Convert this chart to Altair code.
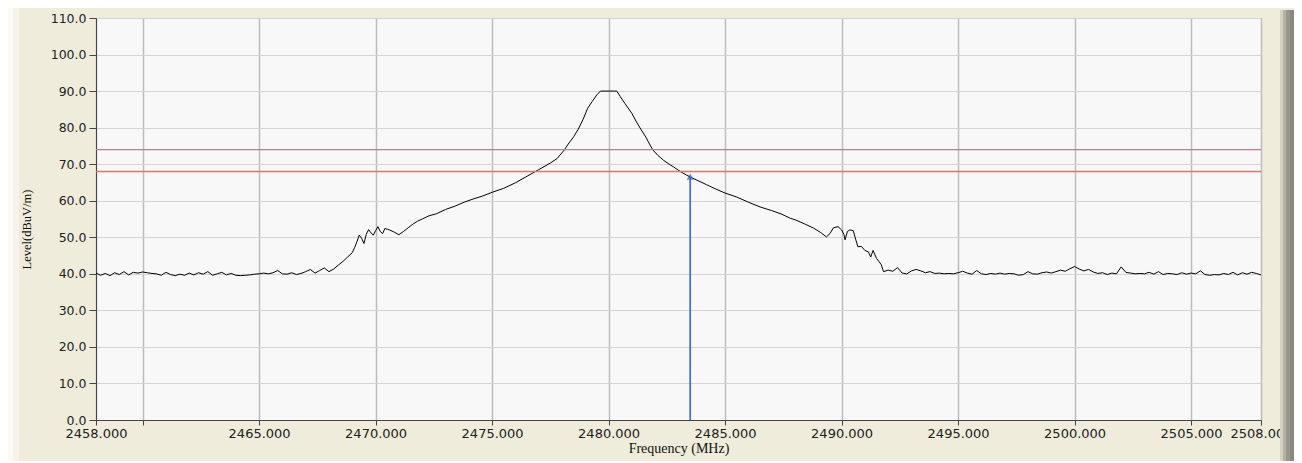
import altair as alt
import pandas as pd

# ---- data ----
freq = [
    2458.0, 2458.2, 2458.4, 2458.6, 2458.8, 2459.0, 2459.2, 2459.4, 2459.6, 2459.8,
    2460.0, 2460.2, 2460.4, 2460.6, 2460.8, 2461.0, 2461.2, 2461.4, 2461.6, 2461.8,
    2462.0, 2462.2, 2462.4, 2462.6, 2462.8, 2463.0, 2463.2, 2463.4, 2463.6, 2463.8,
    2464.0, 2464.2, 2464.4, 2464.6, 2464.8, 2465.0, 2465.2, 2465.4, 2465.6, 2465.8,
    2466.0, 2466.2, 2466.4, 2466.6, 2466.8, 2467.0, 2467.2, 2467.4, 2467.6, 2467.8,
    2468.0, 2468.2, 2468.4, 2468.6, 2468.8, 2469.0, 2469.1, 2469.2, 2469.3, 2469.4,
    2469.5, 2469.6, 2469.7, 2469.8, 2469.9, 2470.0, 2470.1, 2470.2, 2470.3, 2470.4,
    2470.5, 2470.6, 2470.8, 2471.0, 2471.2, 2471.4, 2471.6, 2471.8, 2472.0, 2472.3,
    2472.6, 2473.0, 2473.4, 2473.8, 2474.2, 2474.6, 2475.0, 2475.5, 2476.0, 2476.5,
    2477.0, 2477.5, 2477.8, 2478.1, 2478.3, 2478.5, 2478.7, 2478.9, 2479.1, 2479.3,
    2479.5, 2479.65, 2480.35, 2480.5, 2480.7, 2481.0, 2481.2, 2481.4, 2481.6, 2481.8,
    2481.9, 2482.1, 2482.35, 2482.6, 2482.8, 2483.1, 2483.35, 2483.5, 2483.8, 2484.2,
    2484.6, 2485.0, 2485.5, 2486.0, 2486.5, 2487.0, 2487.4, 2487.8, 2488.0, 2488.4,
    2488.8, 2489.1, 2489.35, 2489.5, 2489.65, 2489.85, 2490.0, 2490.1, 2490.15, 2490.25,
    2490.35, 2490.5, 2490.6, 2490.7, 2490.85, 2491.0, 2491.15, 2491.25, 2491.35, 2491.5,
    2491.6, 2491.7, 2491.8, 2492.0, 2492.2, 2492.4, 2492.6, 2492.8, 2493.0, 2493.2,
    2493.4, 2493.6, 2493.8, 2494.0, 2494.2, 2494.4, 2494.6, 2494.8, 2495.0, 2495.2,
    2495.4, 2495.6, 2495.8, 2496.0, 2496.2, 2496.4, 2496.6, 2496.8, 2497.0, 2497.2,
    2497.4, 2497.6, 2497.8, 2498.0, 2498.2, 2498.4, 2498.6, 2498.8, 2499.0, 2499.2,
    2499.4, 2499.6, 2499.8, 2500.0, 2500.2, 2500.4, 2500.6, 2500.8, 2501.0, 2501.2,
    2501.4, 2501.6, 2501.8, 2502.0, 2502.2, 2502.4, 2502.6, 2502.8, 2503.0, 2503.2,
    2503.4, 2503.6, 2503.8, 2504.0, 2504.2, 2504.4, 2504.6, 2504.8, 2505.0, 2505.2,
    2505.4, 2505.6, 2505.8, 2506.0, 2506.2, 2506.4, 2506.6, 2506.8, 2507.0, 2507.2,
    2507.4, 2507.6, 2507.8, 2508.0,
]
level = [
    40.2, 39.6, 40.1, 39.5, 40.3, 39.8, 40.6, 39.7, 40.4, 40.2,
    40.5, 40.3, 40.1, 40.0, 39.6, 40.4, 39.8, 39.5, 39.9, 39.6,
    40.2, 39.7, 40.3, 39.9, 40.6, 39.6, 40.0, 40.4, 39.7, 40.1,
    39.6, 39.5, 39.6, 39.7, 39.9, 40.0, 40.2, 40.0, 40.3, 40.9,
    40.0, 39.9, 40.3, 39.8, 40.1, 40.6, 41.2, 40.2, 40.9, 41.6,
    40.6, 41.3, 42.4, 43.4, 44.6, 45.8, 47.2, 48.8, 50.6, 49.7,
    48.3, 50.8, 52.1, 51.2, 50.6, 51.8, 52.9, 51.6, 51.0, 52.4,
    52.2, 52.0, 51.4, 50.7, 51.6, 52.6, 53.6, 54.4, 55.0, 55.9,
    56.4, 57.6, 58.5, 59.6, 60.5, 61.3, 62.3, 63.4, 64.9, 66.7,
    68.5, 70.3, 71.6, 73.9, 75.8, 77.5, 79.6, 82.2, 85.3, 87.2,
    89.0, 90.0, 90.0, 88.5, 86.6, 83.9, 81.5, 79.4, 77.4, 75.0,
    73.9, 72.5, 71.1, 70.0, 69.2, 67.9, 67.0, 66.5, 65.6, 64.4,
    63.2, 62.1, 61.0, 59.6, 58.3, 57.3, 56.4, 55.2, 54.8, 53.7,
    52.5, 51.3, 50.1, 51.0, 52.6, 52.9, 52.0, 50.8, 49.3, 51.6,
    52.0, 51.8, 49.5, 47.4, 47.5, 46.4, 46.0, 44.6, 46.4, 44.2,
    43.4, 42.5, 40.6, 41.0, 40.7, 41.7, 40.2, 40.0, 40.8, 41.2,
    40.8, 40.3, 40.6, 40.1, 40.2, 40.0, 40.1, 40.0, 40.3, 40.7,
    40.2, 39.9, 40.9, 40.0, 39.8, 40.1, 39.9, 40.2, 39.9, 40.1,
    40.0, 39.6, 39.8, 40.6, 40.0, 39.9, 40.3, 40.5, 40.2, 40.6,
    41.0, 40.7, 41.4, 42.0, 41.3, 40.8, 41.2, 40.5, 40.1, 40.3,
    39.8, 40.2, 40.0, 41.9, 40.4, 40.2, 40.0, 40.1, 40.0, 40.4,
    39.9, 40.6, 39.8, 40.1, 40.0, 39.8, 40.3, 39.9, 40.2, 40.0,
    40.8, 39.8, 39.6, 39.8, 39.7, 40.1, 39.8, 40.4, 39.7, 40.3,
    39.9, 40.4, 40.1, 39.7,
]
limit_levels = [74.0, 68.0]
marker_freq = [2483.5]
marker_level = [66.5]
x_ticks = [2458, 2460, 2465, 2470, 2475, 2480, 2485, 2490, 2495, 2500, 2505, 2508]
y_ticks = [0, 10, 20, 30, 40, 50, 60, 70, 80, 90, 100, 110]

trace = pd.DataFrame({"freq": freq, "level": level})
limits = pd.DataFrame({"limit": limit_levels})
marker = pd.DataFrame({"freq": marker_freq, "level": marker_level, "base": [0.0]})
one = pd.DataFrame({"a": [0]})

W, H = 1165, 402

xscale = alt.Scale(domain=[2458, 2508], nice=False, zero=False)
yscale = alt.Scale(domain=[0, 110], nice=False, zero=False)

xaxis = alt.Axis(
    values=x_ticks,
    labelExpr="datum.value == 2460 ? '' : format(datum.value, '.3f')",
    labelOverlap=False, labelFlush=False, labelBound=False,
    tickSize=5, labelPadding=2,
    title="Frequency (MHz)", titleFont="Liberation Serif", titleFontSize=14,
    titleFontWeight="normal", titleColor="#111", titlePadding=1,
    labelFont="DejaVu Sans", labelFontSize=13, labelColor="#222",
    gridColor="#BDBDBD", gridWidth=1.5,
    domainColor="#444", tickColor="#444",
)
yaxis = alt.Axis(
    values=y_ticks, format=".1f", tickCount=12,
    labelOverlap=False, labelFlush=False, labelBound=False,
    tickSize=7, labelPadding=3,
    title="Level(dBuV/m)", titleFont="Liberation Serif", titleFontSize=12.5,
    titleFontWeight="normal", titleColor="#111",
    titleAngle=270, titleX=-70, titleY=211, titleAlign="center", titleBaseline="middle",
    labelFont="DejaVu Sans", labelFontSize=12.5, labelColor="#222",
    gridColor="#D4D4D4", gridWidth=1.2,
    domainColor="#444", tickColor="#444",
)

line = alt.Chart(trace).mark_line(strokeWidth=1, clip=True).encode(
    x=alt.X("freq:Q", scale=xscale, axis=xaxis),
    y=alt.Y("level:Q", scale=yscale, axis=yaxis),
    color=alt.value("#000000"),
)

limit_rules = alt.Chart(limits).mark_rule(strokeWidth=1.3).encode(
    x=alt.value(0),
    x2=alt.value(W),
    y=alt.Y("limit:Q", scale=yscale, axis=yaxis),
    stroke=alt.value("#F26B6B"),
    strokeOpacity=alt.value(1),
)

marker_rule = alt.Chart(marker).mark_rule(strokeWidth=1.5).encode(
    x=alt.X("freq:Q", scale=xscale, axis=xaxis),
    y=alt.Y("base:Q", scale=yscale, axis=yaxis),
    y2="level:Q",
    color=alt.value("#2A5BD7"),
)
marker_pt = alt.Chart(marker).mark_point(
    shape="triangle-up", size=24, filled=False, strokeWidth=1.3
).encode(
    x=alt.X("freq:Q", scale=xscale, axis=xaxis),
    y=alt.Y("level:Q", scale=yscale, axis=yaxis),
    color=alt.value("#2A5BD7"),
)

# window frame decorations (pixel positions relative to plot area)
def strip(x0, x1, y0, y1, color):
    return alt.Chart(one).mark_rect().encode(
        x=alt.value(x0), x2=alt.value(x1), y=alt.value(y0), y2=alt.value(y1),
        color=alt.value(color),
    )

decor = [
    strip(-89, -83, -10, 443, "#FBFAF4"),
    strip(-83, -77, -10, 443, "#F6F4EA"),
    strip(1184, 1187, -8, 443, "#D6D2C2"),
    strip(1187, 1190, -8, 443, "#B4B1A4"),
    strip(1190, 1194, -8, 443, "#9A978C"),
    strip(1194, 1198, -8, 443, "#8A887F"),
]

chart = alt.layer(
    *decor, line, limit_rules, marker_rule, marker_pt
).properties(
    width=W, height=H,
    background="#EFECDC",
    padding={"left": 88, "top": 10, "right": 33, "bottom": 41},
    autosize=alt.AutoSizeParams(type="none"),
).configure_view(
    fill="#F8F8F8", stroke="#555", strokeWidth=1
)

chart.save("out.html", embed_options={"renderer": "svg", "actions": False})
